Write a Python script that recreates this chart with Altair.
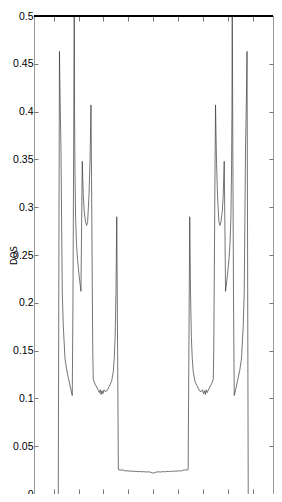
import altair as alt
import pandas as pd

# Energy (x) and DOS (y)
energy = [
    -3.815, -3.790, -3.767, -3.739, -3.707, -3.679, -3.655, -3.614, -3.546, -3.478,
    -3.414, -3.333, -3.253, -3.225, -3.197, -3.173, -3.161, -3.145, -3.120, -3.084,
    -3.040, -2.984, -2.932, -2.904, -2.878, -2.851, -2.811, -2.771, -2.715, -2.675,
    -2.635, -2.582, -2.542, -2.518, -2.502, -2.478, -2.450, -2.430, -2.410, -2.341,
    -2.273, -2.201, -2.161, -2.129, -2.092, -2.060, -2.020, -1.980, -1.920, -1.859,
    -1.779, -1.671, -1.606, -1.566, -1.530, -1.498, -1.466, -1.434, -1.402,
    -1.33, -1.25, -1.17, -1.10, -1.02, -0.94, -0.86, -0.78, -0.70, -0.62, -0.54,
    -0.46, -0.38, -0.30, -0.22, -0.14, -0.06, 0.0, 0.06, 0.14, 0.22, 0.30, 0.38,
    0.46, 0.54, 0.62, 0.70, 0.78, 0.86, 0.94, 1.02, 1.10, 1.17, 1.25, 1.33,
    1.402, 1.434, 1.466, 1.498, 1.530, 1.566, 1.606, 1.671, 1.779, 1.859,
    1.920, 1.980, 2.020, 2.060, 2.092, 2.129, 2.161, 2.201, 2.273, 2.341,
    2.410, 2.430, 2.450, 2.478, 2.502, 2.518, 2.542, 2.582, 2.635, 2.675,
    2.715, 2.771, 2.811, 2.851, 2.878, 2.904, 2.932, 2.984, 3.040, 3.084,
    3.120, 3.145, 3.161, 3.173, 3.197, 3.225, 3.253, 3.333, 3.414, 3.478,
    3.546, 3.614, 3.655, 3.679, 3.707, 3.739, 3.767, 3.790, 3.815,
]
dos = [
    0.0, 0.25, 0.463, 0.41, 0.363, 0.28, 0.212, 0.176, 0.142, 0.130,
    0.122, 0.112, 0.103, 0.20, 0.36, 0.52, 0.40, 0.34, 0.29, 0.262,
    0.245, 0.230, 0.218, 0.212, 0.28, 0.348, 0.312, 0.295, 0.284, 0.281,
    0.285, 0.312, 0.346, 0.38, 0.407, 0.33, 0.22, 0.15, 0.120, 0.115,
    0.112, 0.108, 0.106, 0.109, 0.104, 0.108, 0.105, 0.109, 0.107, 0.108,
    0.112, 0.118, 0.128, 0.142, 0.165, 0.21, 0.29, 0.16, 0.0255,
    0.0250, 0.0252, 0.0246, 0.0240, 0.0244, 0.0238, 0.0240, 0.0236, 0.0238, 0.0234, 0.0236,
    0.0232, 0.0234, 0.0230, 0.0232, 0.0230, 0.0224, 0.0218, 0.0224, 0.0230, 0.0232, 0.0230, 0.0234,
    0.0232, 0.0236, 0.0234, 0.0238, 0.0236, 0.0240, 0.0238, 0.0244, 0.0240, 0.0246, 0.0252, 0.0250,
    0.0255, 0.16, 0.29, 0.21, 0.165, 0.142, 0.128, 0.118, 0.112, 0.108,
    0.107, 0.109, 0.105, 0.108, 0.104, 0.109, 0.106, 0.108, 0.112, 0.115,
    0.120, 0.15, 0.22, 0.33, 0.407, 0.38, 0.346, 0.312, 0.285, 0.281,
    0.284, 0.295, 0.312, 0.348, 0.28, 0.212, 0.218, 0.230, 0.245, 0.262,
    0.29, 0.34, 0.40, 0.52, 0.36, 0.20, 0.103, 0.112, 0.122, 0.130,
    0.142, 0.176, 0.212, 0.28, 0.363, 0.41, 0.463, 0.25, 0.0,
]

x_domain = [-4.79, 4.81]
x_ticks = [-4, -3, -2, -1, 0, 1, 2, 3, 4]
y_ticks = [0, 0.05, 0.1, 0.15, 0.2, 0.25, 0.3, 0.35, 0.4, 0.45, 0.5]
y_label = "DOS"

df = pd.DataFrame({"E": energy, "DOS": dos})

PAD_L, PAD_T = 26, 8
W, H = 239, 478
xs = alt.Scale(domain=x_domain, nice=False, zero=False)
ys = alt.Scale(domain=[0, 0.5], nice=False, zero=False)

lab_font = "Liberation Sans, Arial, sans-serif"

line = alt.Chart(df).mark_line(color="#3a3a3a", strokeWidth=0.7, clip=True).encode(
    x=alt.X("E:Q", scale=xs, axis=alt.Axis(
        orient="bottom", values=x_ticks, labels=False, title=None, domain=False,
        grid=False, ticks=True, tickSize=5, offset=-5, tickColor="#777")),
    y=alt.Y("DOS:Q", scale=ys, axis=alt.Axis(
        orient="left", values=y_ticks, format="~g", title=y_label, domain=False,
        grid=False, ticks=True, tickSize=4, offset=-4, tickColor="#777",
        labelFont=lab_font, labelFontSize=10.5, labelColor="black", labelPadding=1,
        labelBaseline="middle",
        titleFont="DejaVu Sans Condensed, DejaVu Sans", titleFontSize=9.5,
        titleFontWeight="normal", titleColor="black", titleAngle=270,
        titleAlign="center", titleBaseline="alphabetic", titleX=-22, titleY=H / 2)),
    order=alt.Order("E:Q"),
)

overlay = alt.Chart(df).mark_point(opacity=0).encode(
    x=alt.X("E:Q", scale=xs, axis=alt.Axis(
        orient="top", values=x_ticks, labels=False, title=None, domain=False,
        grid=False, ticks=True, tickSize=5, offset=-5, tickColor="#777")),
    y=alt.Y("DOS:Q", scale=ys, axis=alt.Axis(
        orient="right", values=y_ticks, labels=False, title=None, domain=False,
        grid=False, ticks=True, tickSize=4, offset=-4, tickColor="#777")),
)

top = alt.Chart(df).mark_rule(color="black", strokeWidth=1.4).encode(
    y=alt.YDatum(0.5, axis=None, scale=ys),
)

chart = alt.layer(line, overlay, top).resolve_axis(
    x="independent", y="independent"
).properties(
    width=W, height=H,
    autosize=alt.AutoSizeParams(type="none"),
    padding={"left": PAD_L, "top": PAD_T, "right": 1, "bottom": 0},
).configure_view(stroke="#999", strokeWidth=1)

chart.save("out.html", embed_options={"renderer": "svg", "actions": False})
